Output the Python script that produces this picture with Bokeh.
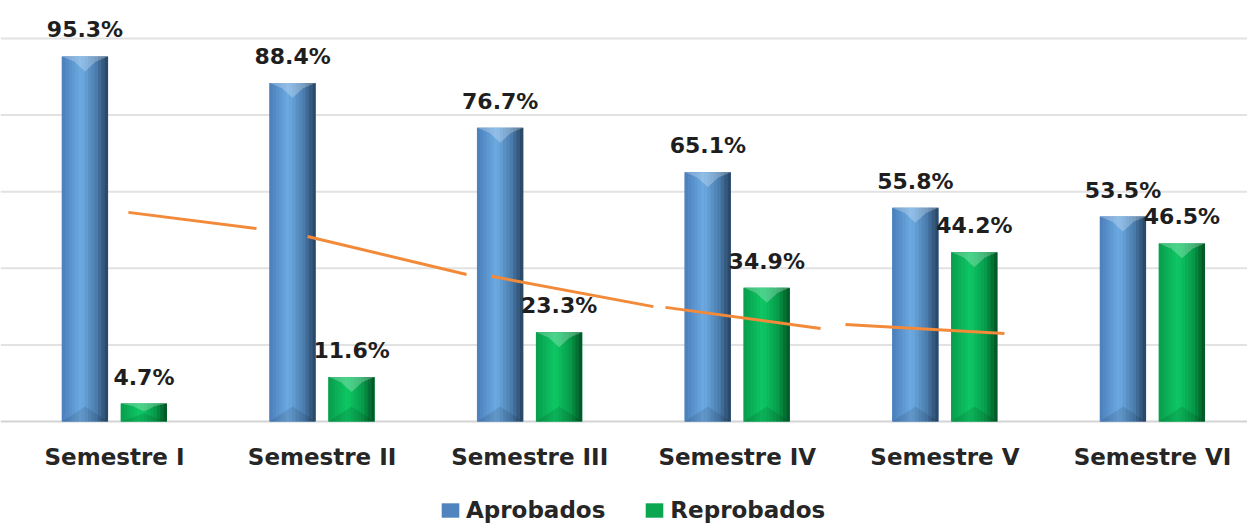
from bokeh.plotting import figure
from bokeh.models import (Range1d, ColumnDataSource, LabelSet,
                          Legend, LegendItem, Span)
from bokeh.core.properties import value
from bokeh.embed import file_html
from bokeh.resources import INLINE

# ---- data ----
semestres = ["Semestre I", "Semestre II", "Semestre III",
             "Semestre IV", "Semestre V", "Semestre VI"]
aprobados = [95.3, 88.4, 76.7, 65.1, 55.8, 53.5]
reprobados = [4.7, 11.6, 23.3, 34.9, 44.2, 46.5]
grid_values = [0, 20, 40, 60, 80, 100]
# orange trend line (segments), x in category units, y in %
tendencia_x = [[0.067, 0.684], [0.930, 1.696], [1.816, 2.596],
               [2.654, 3.401], [3.521, 4.287]]
tendencia_y = [[54.6, 50.4], [48.3, 38.4], [37.9, 30.0],
               [29.8, 24.3], [25.3, 23.0]]

# ---- style ----
BAR_W = 0.222
OFF_A = -0.142
OFF_R = 0.142
FONT = "DejaVu Sans"

blue_stops = [(0.0, (0x4a, 0x7e, 0xba)), (0.42, (0x6d, 0xab, 0xe3)),
              (0.75, (0x4a, 0x7c, 0xad)), (1.0, (0x26, 0x40, 0x5c))]
green_stops = [(0.0, (0x08, 0x9c, 0x4c)), (0.42, (0x0e, 0xc8, 0x65)),
               (0.75, (0x07, 0x9a, 0x4a)), (1.0, (0x02, 0x50, 0x24))]


def grad(stops, t):
    for (t0, c0), (t1, c1) in zip(stops[:-1], stops[1:]):
        if t <= t1:
            f = (t - t0) / (t1 - t0)
            c = [round(a + (b - a) * f) for a, b in zip(c0, c1)]
            return "#%02x%02x%02x" % tuple(c)
    return "#%02x%02x%02x" % stops[-1][1]


p = figure(width=1247, height=523,
           x_range=Range1d(-0.5491, 5.4576), y_range=Range1d(-26.63, 109.92),
           output_backend="svg", toolbar_location=None,
           x_axis_location=None, y_axis_location=None,
           min_border_left=0, min_border_right=0, min_border_top=0,
           min_border_bottom=0)
p.outline_line_color = None
p.background_fill_color = "white"
p.border_fill_color = "white"

p.xgrid.visible = False
p.ygrid.visible = False
for g in grid_values:
    p.add_layout(Span(location=g, dimension="width", level="underlay",
                      line_color="#d4d4d4" if g == 0 else "#e2e2e2",
                      line_width=2))

idx = list(range(len(semestres)))


def draw_series(values, off, stops, base_color):
    xs = [i + off for i in idx]
    base = p.vbar(x=xs, top=values, width=BAR_W, bottom=0,
                  fill_color=base_color, line_color=None)
    n = 14
    sw = BAR_W / n
    for k in range(n):
        t = (k + 0.5) / n
        sx = [x - BAR_W / 2 + (k + 0.5) * sw for x in xs]
        p.vbar(x=sx, top=values, width=sw * (1.15 if k < n - 1 else 1.0),
               bottom=0, fill_color=grad(stops, t), line_color=None)
    # bevel top (lighter) and bottom (darker)
    txs, tys, bxs, bys = [], [], [], []
    for x, v in zip(xs, values):
        d = min(3.9, v * 0.45)
        txs.append([x - BAR_W / 2, x + BAR_W / 2, x + BAR_W / 2 - 0.06, x,
                    x - BAR_W / 2 + 0.06])
        tys.append([v, v, v - d * 0.35, v - d, v - d * 0.35])
        bxs.append([x - BAR_W / 2, x + BAR_W / 2, x])
        bys.append([0, 0, d])
    p.patches(xs=txs, ys=tys, fill_color="white", fill_alpha=0.25,
              line_color=None)
    p.patches(xs=bxs, ys=bys, fill_color="black", fill_alpha=0.10,
              line_color=None)
    return base, xs


base_a, xa = draw_series(aprobados, OFF_A, blue_stops, "#4f84be")
base_r, xr = draw_series(reprobados, OFF_R, green_stops, "#0aa650")

p.multi_line(xs=tendencia_x, ys=tendencia_y, line_color="#f28a3a",
             line_width=3)

lab_src = ColumnDataSource(dict(
    x=xa + xr,
    y=aprobados + reprobados,
    t=["%.1f%%" % v for v in aprobados + reprobados],
))
labels = LabelSet(x="x", y="y", text="t", source=lab_src, y_offset=19,
                  text_align="center", text_baseline="alphabetic",
                  text_font=value(FONT), text_font_style="bold",
                  text_font_size="22px", text_color="#1e1e1e")
p.add_layout(labels)

# category labels along the baseline
cat_src = ColumnDataSource(dict(x=idx, y=[0] * len(idx), t=semestres))
cat_labels = LabelSet(x="x", y="y", text="t", source=cat_src, y_offset=-35,
                      text_align="center", text_baseline="middle",
                      text_font=value(FONT), text_font_style="bold",
                      text_font_size="23px", text_color="#262626")
p.add_layout(cat_labels)

legend = Legend(items=[LegendItem(label="Aprobados", renderers=[base_a]),
                       LegendItem(label="Reprobados", renderers=[base_r])],
                orientation="horizontal", location=(439, 0),
                border_line_color=None, background_fill_alpha=0,
                padding=0, margin=0, spacing=38, label_standoff=5,
                glyph_width=22, glyph_height=18,
                label_text_font=FONT, label_text_font_style="bold",
                label_text_font_size="23px", label_text_color="#262626")
p.add_layout(legend)

open("out.html", "w").write(file_html(p, INLINE))
